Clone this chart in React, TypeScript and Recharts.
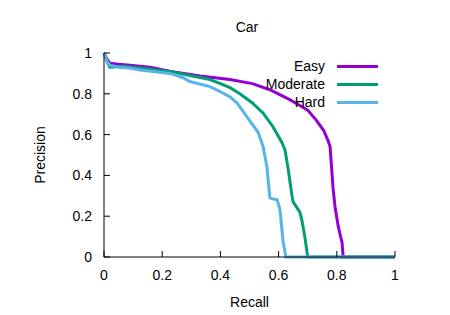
import { LineChart, Line, XAxis, YAxis, Legend } from "recharts";

const FONT = '"Liberation Sans", Arial, sans-serif';

const TICKS = [0, 0.2, 0.4, 0.6, 0.8, 1];

const easyRecall = [0, 0.01, 0.02, 0.05, 0.09, 0.158, 0.23, 0.33, 0.433, 0.51, 0.57, 0.64, 0.67, 0.7, 0.73, 0.755, 0.77, 0.777, 0.787, 0.794, 0.805, 0.818, 0.822, 1];
const easyPrecision = [1, 0.97, 0.95, 0.945, 0.94, 0.93, 0.91, 0.887, 0.87, 0.85, 0.82, 0.77, 0.745, 0.72, 0.67, 0.62, 0.57, 0.54, 0.34, 0.245, 0.15, 0.07, 0, 0];

const moderateRecall = [0, 0.01, 0.02, 0.065, 0.124, 0.227, 0.295, 0.364, 0.4, 0.433, 0.467, 0.51, 0.547, 0.58, 0.61, 0.622, 0.633, 0.645, 0.65, 0.673, 0.68, 0.69, 0.7, 1];
const moderatePrecision = [1, 0.96, 0.93, 0.935, 0.926, 0.91, 0.89, 0.87, 0.85, 0.83, 0.8, 0.755, 0.705, 0.64, 0.565, 0.525, 0.43, 0.31, 0.27, 0.22, 0.18, 0.1, 0, 0];

const hardRecall = [0, 0.01, 0.02, 0.05, 0.09, 0.124, 0.227, 0.27, 0.295, 0.364, 0.4, 0.433, 0.457, 0.5, 0.53, 0.547, 0.56, 0.57, 0.58, 0.595, 0.605, 0.615, 0.625, 1];
const hardPrecision = [1, 0.96, 0.94, 0.93, 0.925, 0.917, 0.9, 0.88, 0.86, 0.835, 0.81, 0.785, 0.755, 0.67, 0.61, 0.54, 0.44, 0.29, 0.285, 0.28, 0.23, 0.08, 0, 0];

const zip = (rs: number[], ps: number[]) => rs.map((r, i) => ({ r, p: ps[i] }));

const series = [
  { name: "Easy", color: "#9400D3", data: zip(easyRecall, easyPrecision) },
  { name: "Moderate", color: "#009E73", data: zip(moderateRecall, moderatePrecision) },
  { name: "Hard", color: "#56B4E9", data: zip(hardRecall, hardPrecision) },
];
const seriesOrder = series.map((s) => s.name);

function KeyBox({ payload }: any) {
  // keep the plotting order, not alphabetical
  const items = [...(payload || [])].sort(
    (a: any, b: any) => seriesOrder.indexOf(a.value) - seriesOrder.indexOf(b.value)
  );
  return (
    <div style={{ fontFamily: FONT, fontSize: 14, color: "#000" }}>
      {items.map((item: any) => (
        <div key={item.value} style={{ display: "flex", alignItems: "center", height: 18 }}>
          <span style={{ width: 125, textAlign: "right", lineHeight: "18px" }}>{item.value}</span>
          <span style={{ width: 41, height: 3, marginLeft: 12, background: item.color }} />
        </div>
      ))}
    </div>
  );
}

function PrecisionLabel({ viewBox }: any) {
  const { x, y, height } = viewBox;
  const cx = x + 40;
  const cy = y + height / 2;
  return (
    <text
      x={cx}
      y={cy}
      transform={`rotate(-90 ${cx} ${cy})`}
      textAnchor="middle"
      dominantBaseline="central"
      fill="#000"
      fontSize={14}
      fontFamily={FONT}
    >
      Precision
    </text>
  );
}

export default function App() {
  const tick = { fill: "#000", fontSize: 14, fontFamily: FONT };
  return (
    <div style={{ position: "absolute", left: 0, top: 0, width: 450, height: 315, background: "#fff" }}>
      <div
        style={{
          position: "absolute",
          left: 147,
          top: 19,
          width: 200,
          textAlign: "center",
          fontFamily: FONT,
          fontSize: 14,
          color: "#000",
        }}
      >
        Car
      </div>
      <LineChart width={450} height={315} margin={{ top: 53, right: 55, bottom: 0, left: 0 }}>
        <XAxis
          xAxisId="b"
          type="number"
          dataKey="r"
          domain={[0, 1]}
          ticks={TICKS}
          tickFormatter={(v) => String(v)}
          height={58}
          tickSize={-6}
          tickMargin={19}
          tick={tick}
          stroke="#000"
          tickLine={{ stroke: "#000" }}
          label={{ value: "Recall", position: "insideBottom", offset: 8, fill: "#000", fontSize: 14, fontFamily: FONT }}
        />
        <XAxis
          xAxisId="t"
          orientation="top"
          type="number"
          dataKey="r"
          domain={[0, 1]}
          ticks={TICKS}
          height={0}
          tickSize={-6}
          tick={false}
          stroke="#000"
          tickLine={{ stroke: "#000" }}
        />
        <YAxis
          yAxisId="l"
          type="number"
          dataKey="p"
          domain={[0, 1]}
          ticks={TICKS}
          tickFormatter={(v) => String(v)}
          width={104}
          tickSize={-6}
          tickMargin={18}
          tick={tick}
          stroke="#000"
          tickLine={{ stroke: "#000" }}
          label={<PrecisionLabel />}
        />
        <YAxis
          yAxisId="r"
          orientation="right"
          type="number"
          dataKey="p"
          domain={[0, 1]}
          ticks={TICKS}
          width={0}
          tickSize={-6}
          tick={false}
          stroke="#000"
          tickLine={{ stroke: "#000" }}
        />
        <Legend
          layout="vertical"
          align="center"
          verticalAlign="middle"
          wrapperStyle={{ left: 200, top: 57, width: 190 }}
          content={<KeyBox />}
        />
        {series.map((s) => (
          <Line
            key={s.name}
            xAxisId="b"
            yAxisId="l"
            name={s.name}
            data={s.data}
            dataKey="p"
            type="linear"
            stroke={s.color}
            strokeWidth={3}
            dot={false}
            activeDot={false}
            isAnimationActive={false}
          />
        ))}
      </LineChart>
    </div>
  );
}
